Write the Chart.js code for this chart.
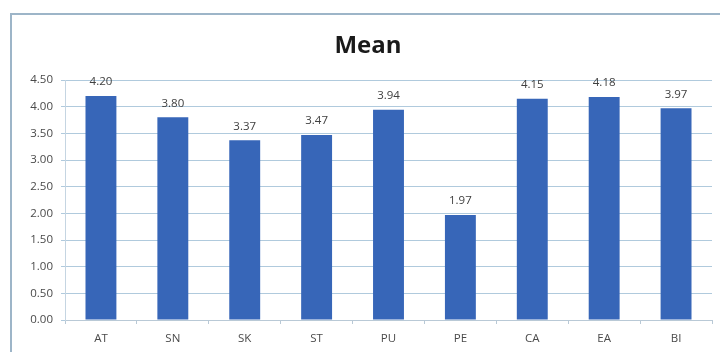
<!DOCTYPE html>
<html>
<head>
<meta charset="utf-8">
<script src="https://cdn.jsdelivr.net/npm/chart.js@4"></script>
<style>
  html, body { margin: 0; padding: 0; background: #fff; }
  #wrap { position: relative; width: 720px; height: 352px; overflow: hidden; }
  #frame { position: absolute; left: 10px; top: 13px; width: 760px; height: 400px;
           border-left: 2px solid #9db5c8; border-top: 2px solid #9db5c8; }
  canvas { position: absolute; left: 0; top: 0; }
</style>
</head>
<body>
<div id="wrap">
  <div id="frame"></div>
  <canvas id="c" width="720" height="352"></canvas>
</div>
<script>
// Scale dimensions and their mean scores
const chartTitle = 'Mean';
const categories = ['AT', 'SN', 'SK', 'ST', 'PU', 'PE', 'CA', 'EA', 'BI'];
const meanValues = [4.20, 3.80, 3.37, 3.47, 3.94, 1.97, 4.15, 4.18, 3.97];
const yTicks = [0, 0.5, 1, 1.5, 2, 2.5, 3, 3.5, 4, 4.5];

const FONT = '"Open Sans", Lato, sans-serif';

// Heading drawn above the plot, slightly right of the canvas centre
const heading = {
  id: 'heading',
  afterDraw(chart) {
    const ctx = chart.ctx;
    ctx.save();
    ctx.font = 'bold 24px ' + FONT;
    ctx.fillStyle = '#1a1a1a';
    ctx.textAlign = 'center';
    ctx.textBaseline = 'alphabetic';
    ctx.fillText(chartTitle, 368, 53);
    ctx.restore();
  }
};

// Writes each bar's value just above its top
const valueLabels = {
  id: 'valueLabels',
  afterDatasetsDraw(chart) {
    const ctx = chart.ctx;
    const meta = chart.getDatasetMeta(0);
    ctx.save();
    ctx.font = '11.5px ' + FONT;
    ctx.fillStyle = '#404040';
    ctx.textAlign = 'center';
    ctx.textBaseline = 'middle';
    meta.data.forEach((bar, i) => {
      ctx.fillText(meanValues[i].toFixed(2), bar.x, bar.y - 14);
    });
    ctx.restore();
  }
};

new Chart(document.getElementById('c'), {
  type: 'bar',
  data: {
    labels: categories,
    datasets: [{
      label: chartTitle,
      data: meanValues,
      backgroundColor: '#3766b8',
      borderWidth: 0,
      barPercentage: 0.43,
      categoryPercentage: 1.0
    }]
  },
  options: {
    responsive: false,
    animation: false,
    layout: { padding: { left: 10, right: 8, top: 80, bottom: 0 } },
    plugins: {
      legend: { display: false },
      tooltip: { enabled: false },
      title: { display: false }
    },
    scales: {
      x: {
        offset: true,
        grid: {
          display: true,
          drawOnChartArea: false,
          drawTicks: true,
          tickLength: 4,
          color: '#b9c9d6',
          offset: true
        },
        border: { display: true, color: '#b9c9d6', width: 1 },
        ticks: {
          color: '#4a4a4a',
          font: { family: FONT, size: 11.5 },
          padding: 8
        },
        afterFit(scale) { scale.height = 32; }
      },
      y: {
        min: 0,
        max: 4.5,
        afterBuildTicks(scale) { scale.ticks = yTicks.map(v => ({ value: v })); },
        grid: {
          color: '#b0cadd',
          lineWidth: 1,
          drawTicks: true,
          tickLength: 4
        },
        border: { display: true, color: '#c5d5e2', width: 1 },
        ticks: {
          color: '#4a4a4a',
          font: { family: FONT, size: 11.5 },
          padding: 8,
          callback: v => Number(v).toFixed(2)
        },
        afterFit(scale) { scale.width = 55; }
      }
    }
  },
  plugins: [valueLabels, heading]
});
</script>
</body>
</html>
